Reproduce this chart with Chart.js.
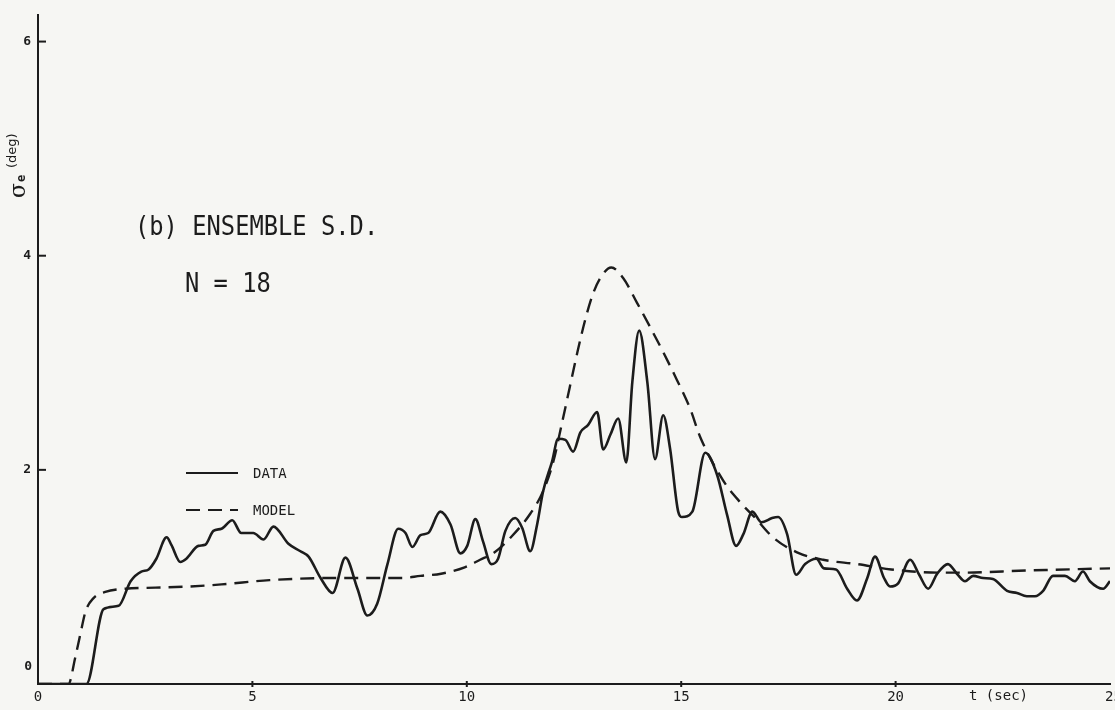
<!DOCTYPE html>
<html>
<head>
<meta charset="utf-8">
<script src="https://cdn.jsdelivr.net/npm/chart.js@4/dist/chart.umd.min.js"></script>
<style>
  html, body { margin: 0; padding: 0; background: #f6f6f3; }
  canvas { display: block; }
</style>
</head>
<body>
<canvas id="chart" width="1115" height="710"></canvas>
<script>
// Ensemble standard deviation of the error angle, sigma_e (deg), versus time t (sec)
const dataTime = [0, 1.13, 1.53, 1.88, 2.16, 2.41, 2.58, 2.76, 3.00, 3.11, 3.32, 3.46, 3.74, 3.90, 4.09, 4.28,
  4.53, 4.74, 5.02, 5.26, 5.49, 5.84, 6.12, 6.31, 6.59, 6.87, 7.17, 7.45, 7.68, 7.91, 8.15, 8.40,
  8.57, 8.73, 8.92, 9.10, 9.38, 9.62, 9.85, 10.01, 10.20, 10.38, 10.57, 10.73, 10.90, 11.13, 11.29,
  11.48, 11.64, 11.78, 11.99, 12.13, 12.30, 12.48, 12.65, 12.83, 13.04, 13.18, 13.35, 13.53, 13.72,
  13.86, 14.02, 14.21, 14.39, 14.58, 14.74, 14.93, 15.02, 15.26, 15.56, 15.84, 16.07, 16.28, 16.45,
  16.66, 16.87, 17.12, 17.26, 17.47, 17.68, 17.89, 18.15, 18.33, 18.61, 18.87, 19.10, 19.34, 19.52,
  19.73, 19.87, 20.06, 20.34, 20.55, 20.76, 20.97, 21.22, 21.43, 21.62, 21.81, 22.04, 22.27, 22.60,
  22.83, 23.06, 23.25, 23.44, 23.67, 23.95, 24.18, 24.37, 24.53, 24.84, 25.0];
const dataSD = [0, 0, 0.70, 0.73, 0.96, 1.05, 1.07, 1.17, 1.37, 1.30, 1.14, 1.17, 1.29, 1.30, 1.43, 1.45,
  1.53, 1.41, 1.41, 1.35, 1.47, 1.31, 1.24, 1.19, 0.99, 0.85, 1.18, 0.89, 0.64, 0.75, 1.12, 1.45,
  1.41, 1.28, 1.39, 1.41, 1.61, 1.49, 1.22, 1.29, 1.54, 1.33, 1.12, 1.17, 1.43, 1.55, 1.46,
  1.24, 1.49, 1.80, 2.08, 2.29, 2.28, 2.17, 2.35, 2.42, 2.54, 2.19, 2.33, 2.48, 2.07,
  2.82, 3.30, 2.82, 2.10, 2.51, 2.20, 1.61, 1.56, 1.61, 2.16, 1.95, 1.58, 1.29, 1.40,
  1.61, 1.51, 1.55, 1.56, 1.40, 1.02, 1.12, 1.17, 1.08, 1.07, 0.89, 0.78, 0.99, 1.19,
  0.99, 0.91, 0.94, 1.16, 1.02, 0.89, 1.03, 1.12, 1.03, 0.96, 1.01, 0.99, 0.98, 0.87,
  0.85, 0.82, 0.82, 0.87, 1.01, 1.01, 0.96, 1.05, 0.96, 0.89, 0.96];

const modelTime = [0, 0.71, 0.87, 0.99, 1.11, 1.29, 1.57, 2.04, 2.74, 3.51, 4.28, 5.40, 6.89, 7.75, 8.50,
  8.92, 9.40, 9.95, 10.31, 10.65, 11.05, 11.48, 11.78, 12.02, 12.20, 12.40, 12.58, 12.76, 12.93,
  13.11, 13.37, 13.65, 13.97, 14.28, 14.58, 14.90, 15.21, 15.44, 15.98, 16.37, 16.73, 17.14, 17.70,
  18.31, 19.10, 19.90, 21.00, 21.50, 23.06, 25.0];
const modelSD = [0, 0, 0.25, 0.47, 0.68, 0.80, 0.86, 0.89, 0.90, 0.91, 0.93, 0.97, 0.99, 0.99, 0.99,
  1.01, 1.03, 1.09, 1.16, 1.23, 1.38, 1.59, 1.80, 2.08, 2.40, 2.77, 3.10, 3.40, 3.63,
  3.79, 3.89, 3.79, 3.56, 3.33, 3.10, 2.84, 2.57, 2.31, 1.90, 1.70, 1.55, 1.37, 1.23,
  1.16, 1.12, 1.07, 1.04, 1.04, 1.06, 1.08];

const xTickValues = [0, 5, 10, 15, 20, 25];
const yTickValues = [0, 2, 4, 6];
const seriesNames = ['DATA', 'MODEL'];
const titleLines = ['(b) ENSEMBLE S.D.', 'N = 18'];
const xAxisTitle = 't (sec)';
const yAxisSymbol = 'σ';
const yAxisSub = 'e';
const yAxisUnit = '(deg)';

const INK = '#1c1c1c';
const PAPER = '#f6f6f3';
const MONO = '"DejaVu Sans Mono", "Liberation Mono", monospace';

const toPoints = (xs, ys) => xs.map((x, i) => ({ x, y: ys[i] }));

// Hand-lettered extras: inner tick marks, offset zero label, legend, captions and axis names
const decorations = {
  id: 'decorations',
  beforeDraw(chart) {
    const { ctx } = chart;
    ctx.save();
    ctx.fillStyle = PAPER;
    ctx.fillRect(0, 0, chart.width, chart.height);
    ctx.restore();
  },
  afterDraw(chart) {
    const { ctx, chartArea } = chart;
    const xs = chart.scales.x, ys = chart.scales.y;
    ctx.save();
    ctx.strokeStyle = INK;
    ctx.fillStyle = INK;
    ctx.lineWidth = 2;

    // tick marks on the inside of the sigma axis
    yTickValues.filter(v => v > 0).forEach(v => {
      const py = ys.getPixelForValue(v);
      ctx.beginPath();
      ctx.moveTo(chartArea.left, py);
      ctx.lineTo(chartArea.left + 8, py);
      ctx.stroke();
    });
    // small crossing ticks on the time axis
    xTickValues.filter(v => v > 0 && v < 25).forEach(v => {
      const px = xs.getPixelForValue(v);
      ctx.beginPath();
      ctx.moveTo(px, chartArea.bottom - 3);
      ctx.lineTo(px, chartArea.bottom + 3);
      ctx.stroke();
    });

    // zero of the sigma axis, lifted above the time axis
    ctx.font = 'bold 13px ' + MONO;
    ctx.textAlign = 'right';
    ctx.textBaseline = 'alphabetic';
    ctx.fillText(String(yTickValues[0]), chartArea.left - 6, ys.getPixelForValue(0) - 14);

    // last time label runs off the sheet edge
    ctx.font = '14px ' + MONO;
    ctx.textAlign = 'left';
    ctx.fillText(String(xTickValues[xTickValues.length - 1]), xs.getPixelForValue(25) - 5, 701);

    // time axis name
    ctx.fillText(xAxisTitle, 969, 700);

    // legend
    const legendRows = [
      { name: seriesNames[0], y: 473, dash: [] },
      { name: seriesNames[1], y: 510, dash: [14, 8] }
    ];
    legendRows.forEach(row => {
      ctx.save();
      ctx.lineWidth = 2.2;
      ctx.setLineDash(row.dash);
      ctx.beginPath();
      ctx.moveTo(186, row.y);
      ctx.lineTo(238, row.y);
      ctx.stroke();
      ctx.restore();
      ctx.font = '14px ' + MONO;
      ctx.textAlign = 'left';
      ctx.fillText(row.name, 253, row.y + 5);
    });

    // caption
    ctx.font = '27px ' + MONO;
    ctx.textAlign = 'left';
    [[titleLines[0], 135, 235], [titleLines[1], 185, 292]].forEach(([txt, x, y]) => {
      ctx.save();
      ctx.translate(x, y);
      ctx.scale(0.88, 1);
      ctx.fillText(txt, 0, 0);
      ctx.restore();
    });

    // sigma axis name, read bottom to top
    ctx.save();
    ctx.translate(25, 198);
    ctx.rotate(-Math.PI / 2);
    ctx.textAlign = 'left';
    ctx.font = '22px "DejaVu Serif", serif';
    ctx.fillText(yAxisSymbol, 0, 0);
    const sw = ctx.measureText(yAxisSymbol).width;
    ctx.font = 'bold 12px ' + MONO;
    ctx.fillText(yAxisSub, sw + 1, 0);
    ctx.font = '13px "DejaVu Sans", sans-serif';
    ctx.fillText(yAxisUnit, sw + 15, -9);
    ctx.restore();

    ctx.restore();
  }
};

new Chart(document.getElementById('chart'), {
  type: 'line',
  data: {
    datasets: [
      {
        label: seriesNames[0],
        data: toPoints(dataTime, dataSD),
        borderColor: INK,
        borderWidth: 2.6,
        pointRadius: 0,
        cubicInterpolationMode: 'monotone',
        fill: false
      },
      {
        label: seriesNames[1],
        data: toPoints(modelTime, modelSD),
        borderColor: INK,
        borderWidth: 2.4,
        borderDash: [14, 8],
        pointRadius: 0,
        cubicInterpolationMode: 'monotone',
        fill: false
      }
    ]
  },
  options: {
    responsive: false,
    animation: false,
    devicePixelRatio: 1,
    layout: { padding: { top: 10, right: 5, left: 0, bottom: 0 } },
    plugins: { legend: { display: false }, tooltip: { enabled: false } },
    scales: {
      x: {
        type: 'linear',
        min: 0,
        max: 25,
        afterFit: s => { s.height = 26; },
        grid: { display: false, drawTicks: false },
        border: { display: true, color: INK, width: 2 },
        ticks: {
          stepSize: 5,
          autoSkip: false,
          maxRotation: 0,
          padding: 5,
          color: INK,
          font: { family: MONO, size: 14 },
          callback: v => (xTickValues.includes(v) && v !== 25 ? String(v) : '')
        }
      },
      y: {
        type: 'linear',
        min: 0,
        max: 6.25,
        afterFit: s => { s.width = 38; },
        grid: { display: false, drawTicks: false },
        border: { display: true, color: INK, width: 2 },
        ticks: {
          stepSize: 2,
          includeBounds: false,
          padding: 7,
          color: INK,
          font: { family: MONO, size: 13, weight: 'bold' },
          callback: v => (yTickValues.includes(v) && v !== 0 ? String(v) : '')
        }
      }
    }
  },
  plugins: [decorations]
});
</script>
</body>
</html>
